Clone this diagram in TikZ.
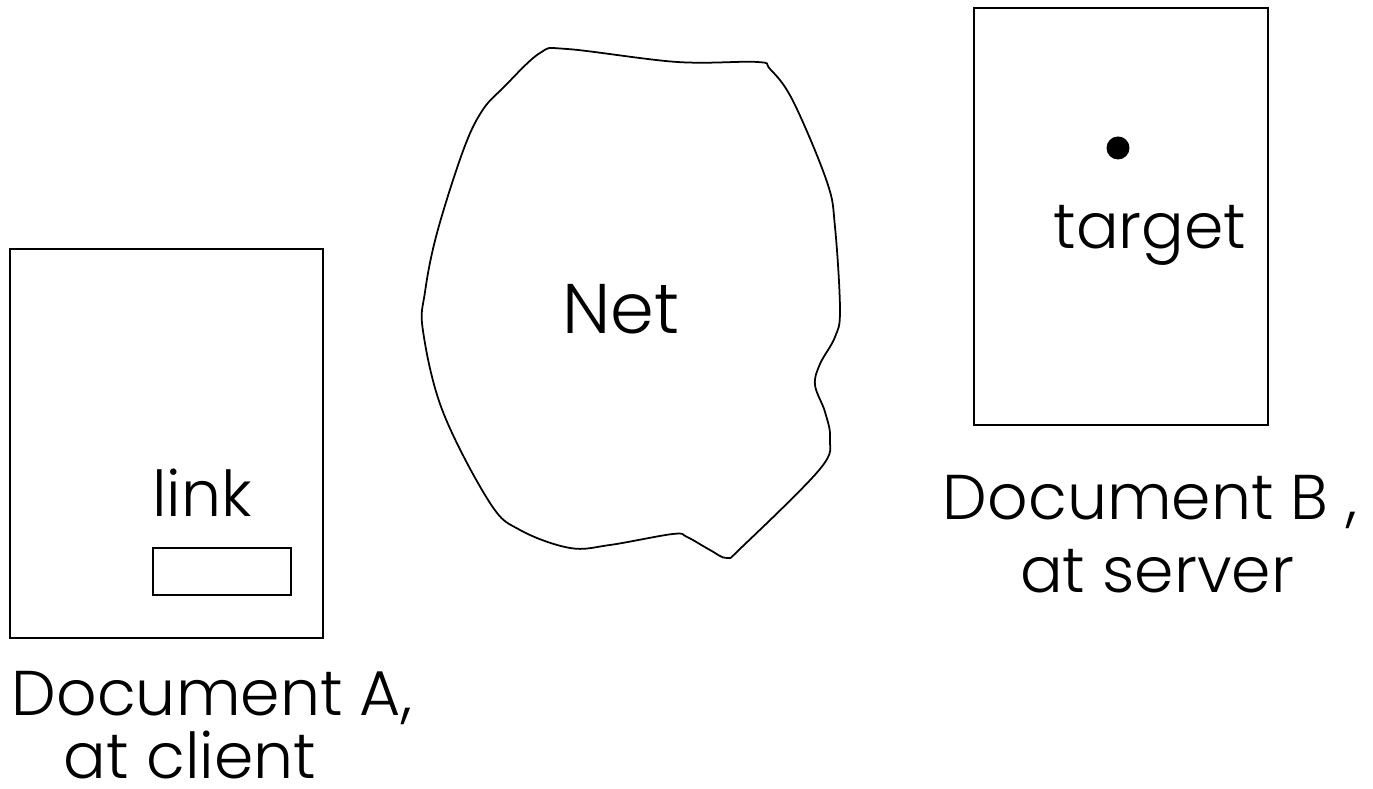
\documentclass[tikz,border=0pt]{standalone}
\usepackage{fontspec}
\setmainfont{Poppins Light}
\usepackage{tikz}
\usetikzlibrary{positioning}
\tikzset{
  docbox/.style={draw, line width=0.5pt, inner sep=0pt},
  lbl/.style={anchor=base, inner sep=0pt, text depth=0pt, font=\fontsize{18}{18}\selectfont},
}

\begin{document}
\begin{tikzpicture}
	\useasboundingbox (0,0) rectangle (13.73,7.89);

	% Documento A (cliente)
	\node[docbox, minimum width=3.13cm, minimum height=3.89cm] (docA) at (1.665,3.455) {};
	\node[docbox, minimum width=1.38cm, minimum height=0.47cm] (linkbox) at (2.22,2.175) {};
	\node[lbl] (link) at (2.02,2.72) {link};
	\node[lbl] (docAname) at (2.12,0.73) {Document A,};
	\node[lbl] (docAwhere) at (1.90,0.10) {at client};

	% Red
	\draw[line width=0.5pt] plot[smooth cycle, tension=0.6] coordinates {
		(5.04,7.02) (5.40,7.36) (5.67,7.40) (6.77,7.27) (7.57,7.27)
		(7.70,7.20) (7.93,6.88) (8.27,6.07) (8.35,5.62) (8.40,4.79)
		(8.35,4.52) (8.20,4.25) (8.15,4.04) (8.25,3.77) (8.30,3.50) (8.20,3.20)
		(7.42,2.42) (7.27,2.31) (7.10,2.39) (6.87,2.52) (6.73,2.55) (6.10,2.44)
		(5.70,2.41) (5.20,2.59) (4.90,2.86) (4.43,3.77) (4.23,4.58) (4.25,4.97)
		(4.37,5.56) (4.63,6.38) (4.82,6.78)};
	\node[lbl, font=\fontsize{20}{20}\selectfont] (net) at (6.21,4.55) {Net};

	% Documento B (servidor)
	\node[docbox, minimum width=2.94cm, minimum height=4.17cm] (docB) at (11.21,5.725) {};
	\fill (11.18,6.41) circle (0.115);
	\node[lbl] (target) at (11.50,5.40) {target};
	\node[lbl] (docBname) at (11.50,2.69) {Document B ,};
	\node[lbl] (docBwhere) at (11.57,1.96) {at server};
\end{tikzpicture}
\end{document}
